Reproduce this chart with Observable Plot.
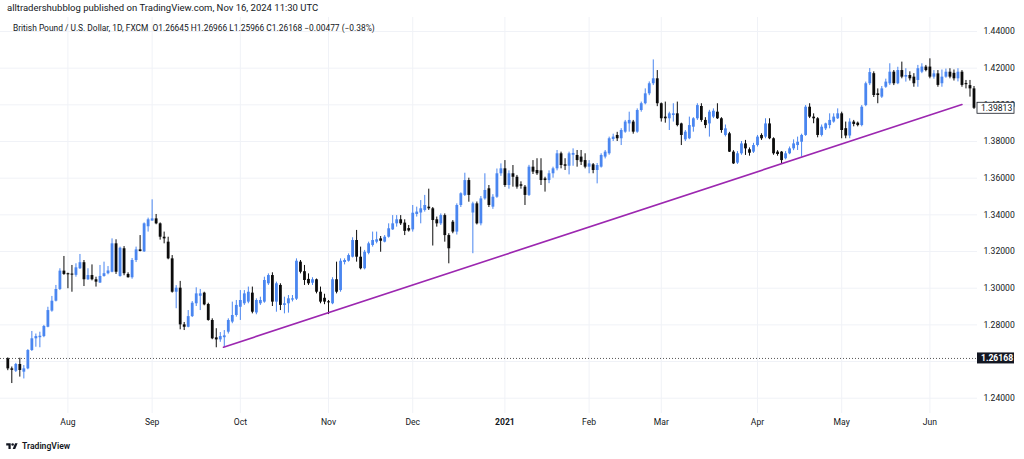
<!DOCTYPE html>
<html><head><meta charset="utf-8">
<script src="https://cdn.jsdelivr.net/npm/d3@7"></script>
<script src="https://cdn.jsdelivr.net/npm/@observablehq/plot@0.6"></script>
<style>
body{margin:0;background:#fff;}
#wrap{position:relative;width:1024px;height:459px;overflow:hidden;font-family:Roboto,"Liberation Sans",sans-serif;color:#131722;background:#fff;}
#chart{position:absolute;left:0;top:0;}
#hdr{position:absolute;left:7px;top:2px;font-size:9.5px;white-space:nowrap;}
#legend{position:absolute;left:13px;top:22.5px;font-size:8.4px;white-space:nowrap;}
#logo{position:absolute;left:5px;top:441px;font-size:8.6px;white-space:nowrap;display:flex;align-items:center;gap:3px;font-weight:600;}
</style></head>
<body><div id="wrap"><div id="chart"></div>
<div id="hdr">alltradershubblog published on TradingView.com, Nov 16, 2024 11:30 UTC</div>
<div id="legend">British Pound / U.S. Dollar, 1D, FXCM&nbsp;&nbsp;O1.26645 H1.26966 L1.25966 C1.26168 −0.00477 (−0.38%)</div>
<div id="logo"><svg width="14" height="9" viewBox="0 0 36 28"><path d="M14 22H7V11H0V4h14v18zM28 22h-8l7.5-18h8L28 22z" fill="#131722"/><circle cx="20" cy="8" r="4" fill="#131722"/></svg><span>TradingView</span></div>
</div>
<script>
const open = [1.2615,1.2560,1.2547,1.2584,1.2542,1.2560,1.2660,1.2724,1.2730,1.2736,1.2787,1.2875,1.2929,1.2993,1.3093,1.3078,1.3075,1.3070,1.3106,1.3139,
1.3046,1.3069,1.3046,1.3028,1.3064,1.3079,1.3087,1.3242,1.3064,1.3215,1.3075,1.3057,1.3151,1.3209,1.3198,1.3335,1.3366,1.3378,1.3351,1.3278,
1.3251,1.3160,1.2978,1.3000,1.2800,1.2787,1.2845,1.2915,1.2956,1.2973,1.2911,1.2824,1.2729,1.2718,1.2730,1.2760,1.2815,1.2851,1.2896,1.2915,
1.2924,1.2973,1.2865,1.2915,1.2924,1.3024,1.3069,1.2924,1.3015,1.2906,1.2915,1.2935,1.2940,1.3142,1.3090,1.3048,1.3027,1.3046,1.2978,1.2945,
1.2924,1.2915,1.3046,1.2987,1.3140,1.3147,1.3169,1.3260,1.3169,1.3106,1.3190,1.3233,1.3251,1.3269,1.3251,1.3278,1.3318,1.3351,1.3373,1.3355,
1.3325,1.3318,1.3402,1.3410,1.3424,1.3442,1.3433,1.3373,1.3351,1.3396,1.3287,1.3360,1.3306,1.3451,1.3506,1.3587,1.3410,1.3460,1.3351,1.3487,
1.3542,1.3442,1.3496,1.3624,1.3651,1.3560,1.3624,1.3605,1.3564,1.3551,1.3506,1.3660,1.3642,1.3640,1.3596,1.3587,1.3624,1.3651,1.3733,1.3673,
1.3665,1.3725,1.3724,1.3715,1.3696,1.3660,1.3673,1.3642,1.3660,1.3715,1.3733,1.3811,1.3833,1.3815,1.3851,1.3896,1.3906,1.3851,1.3969,1.4006,
1.4060,1.4115,1.4142,1.4006,1.3933,1.3924,1.3942,1.3951,1.3896,1.3809,1.3815,1.3878,1.3924,1.3991,1.3915,1.3896,1.3933,1.3960,1.3924,1.3833,
1.3842,1.3742,1.3682,1.3733,1.3787,1.3755,1.3742,1.3778,1.3833,1.3824,1.3896,1.3815,1.3742,1.3742,1.3706,1.3733,1.3760,1.3778,1.3796,1.3833,
1.3987,1.3933,1.3924,1.3833,1.3869,1.3887,1.3906,1.3924,1.3951,1.3870,1.3830,1.3906,1.3900,1.3887,1.3996,1.4115,1.4170,1.4060,1.4042,1.4096,
1.4115,1.4178,1.4115,1.4187,1.4151,1.4160,1.4151,1.4133,1.4178,1.4206,1.4206,1.4151,1.4169,1.4115,1.4151,1.4178,1.4172,1.4142,1.4178,1.4115,
1.4105,1.4087];
const high = [1.2620,1.2570,1.2590,1.2618,1.2578,1.2665,1.2764,1.2750,1.2760,1.2797,1.2896,1.2955,1.3015,1.3106,1.3173,1.3082,1.3124,1.3133,1.3184,1.3151,
1.3106,1.3127,1.3060,1.3124,1.3142,1.3118,1.3269,1.3264,1.3224,1.3227,1.3084,1.3162,1.3224,1.3287,1.3356,1.3382,1.3482,1.3402,1.3356,1.3306,
1.3278,1.3178,1.3014,1.3037,1.2813,1.2878,1.2927,1.3002,1.2993,1.2978,1.2918,1.2833,1.2779,1.2758,1.2769,1.2833,1.2924,1.2933,1.2987,1.2987,
1.3006,1.3006,1.2942,1.2951,1.3060,1.3078,1.3084,1.3033,1.3024,1.2951,1.2960,1.2960,1.3160,1.3151,1.3124,1.3078,1.3057,1.3050,1.3006,1.2967,
1.2933,1.3057,1.3142,1.3160,1.3160,1.3187,1.3275,1.3315,1.3224,1.3206,1.3251,1.3306,1.3306,1.3282,1.3287,1.3351,1.3396,1.3396,1.3396,1.3373,
1.3342,1.3451,1.3442,1.3478,1.3506,1.3540,1.3440,1.3388,1.3405,1.3405,1.3297,1.3369,1.3460,1.3520,1.3627,1.3600,1.3469,1.3470,1.3500,1.3624,
1.3560,1.3510,1.3650,1.3678,1.3696,1.3640,1.3669,1.3615,1.3580,1.3560,1.3670,1.3696,1.3706,1.3706,1.3605,1.3640,1.3660,1.3751,1.3742,1.3706,
1.3742,1.3760,1.3751,1.3751,1.3733,1.3696,1.3680,1.3680,1.3733,1.3751,1.3824,1.3840,1.3850,1.3870,1.3915,1.3960,1.3915,1.3978,1.4015,1.4087,
1.4125,1.4245,1.4187,1.4010,1.4015,1.3960,1.4006,1.4015,1.3900,1.3860,1.3933,1.3930,1.4006,1.4006,1.3930,1.3970,1.3978,1.4006,1.3930,1.3890,
1.3850,1.3750,1.3745,1.3800,1.3806,1.3765,1.3790,1.3833,1.3842,1.3924,1.3924,1.3820,1.3750,1.3745,1.3745,1.3770,1.3809,1.3824,1.3840,1.3996,
1.4006,1.3951,1.3930,1.3890,1.3900,1.3951,1.3951,1.3978,1.3960,1.3906,1.3924,1.3915,1.3906,1.3996,1.4124,1.4198,1.4180,1.4087,1.4100,1.4140,
1.4224,1.4187,1.4205,1.4233,1.4197,1.4180,1.4170,1.4215,1.4224,1.4215,1.4251,1.4187,1.4187,1.4190,1.4195,1.4197,1.4190,1.4197,1.4187,1.4133,
1.4133,1.4100];
const low = [1.2550,1.2480,1.2540,1.2515,1.2505,1.2555,1.2655,1.2678,1.2675,1.2730,1.2784,1.2869,1.2925,1.2987,1.3070,1.2997,1.2978,1.3060,1.3102,1.3009,
1.3042,1.3040,1.3006,1.3026,1.3060,1.3073,1.3084,1.3075,1.3060,1.3068,1.3055,1.3049,1.3140,1.3198,1.3195,1.3306,1.3366,1.3346,1.3262,1.3242,
1.3155,1.2973,1.2888,1.2773,1.2769,1.2784,1.2840,1.2900,1.2878,1.2904,1.2820,1.2719,1.2675,1.2705,1.2678,1.2750,1.2806,1.2842,1.2824,1.2906,
1.2915,1.2860,1.2855,1.2906,1.2918,1.3015,1.2900,1.2869,1.2878,1.2860,1.2864,1.2925,1.2933,1.3078,1.3015,1.3015,1.3015,1.2969,1.2915,1.2910,
1.2856,1.2910,1.2969,1.2978,1.3127,1.3142,1.3165,1.3142,1.3100,1.3100,1.3182,1.3224,1.3242,1.3196,1.3247,1.3273,1.3315,1.3333,1.3342,1.3287,
1.3306,1.3306,1.3388,1.3351,1.3415,1.3424,1.3230,1.3333,1.3342,1.3251,1.3133,1.3297,1.3290,1.3440,1.3500,1.3469,1.3188,1.3345,1.3340,1.3480,
1.3440,1.3430,1.3490,1.3610,1.3550,1.3540,1.3551,1.3540,1.3540,1.3451,1.3500,1.3620,1.3615,1.3560,1.3524,1.3570,1.3600,1.3640,1.3651,1.3642,
1.3618,1.3665,1.3660,1.3669,1.3651,1.3624,1.3624,1.3569,1.3655,1.3705,1.3725,1.3800,1.3800,1.3778,1.3845,1.3851,1.3840,1.3845,1.3960,1.4000,
1.4050,1.4105,1.3990,1.3906,1.3900,1.3860,1.3906,1.3880,1.3778,1.3800,1.3810,1.3851,1.3915,1.3905,1.3870,1.3824,1.3925,1.3920,1.3845,1.3825,
1.3740,1.3675,1.3675,1.3725,1.3724,1.3720,1.3735,1.3770,1.3806,1.3815,1.3810,1.3725,1.3720,1.3675,1.3700,1.3728,1.3750,1.3751,1.3715,1.3828,
1.3925,1.3897,1.3820,1.3825,1.3860,1.3869,1.3900,1.3920,1.3815,1.3815,1.3815,1.3880,1.3880,1.3880,1.3990,1.4105,1.4040,1.4006,1.4035,1.4090,
1.4106,1.4105,1.4110,1.4142,1.4124,1.4130,1.4096,1.4096,1.4170,1.4180,1.4142,1.4140,1.4096,1.4096,1.4145,1.4142,1.4130,1.4125,1.4096,1.4087,
1.4042,1.3975];
const close = [1.2560,1.2552,1.2584,1.2551,1.2560,1.2660,1.2724,1.2736,1.2738,1.2791,1.2878,1.2929,1.2993,1.3093,1.3075,1.3073,1.3071,1.3111,1.3139,1.3046,
1.3069,1.3046,1.3033,1.3064,1.3079,1.3094,1.3242,1.3087,1.3218,1.3079,1.3057,1.3151,1.3209,1.3200,1.3351,1.3373,1.3378,1.3351,1.3278,1.3269,
1.3160,1.2978,1.3000,1.2800,1.2787,1.2845,1.2918,1.2969,1.2969,1.2909,1.2824,1.2724,1.2718,1.2736,1.2740,1.2824,1.2851,1.2906,1.2933,1.2969,
1.2978,1.2869,1.2933,1.2933,1.3042,1.3069,1.2924,1.3024,1.2906,1.2915,1.2942,1.2942,1.3147,1.3087,1.3042,1.3024,1.3046,1.2978,1.2924,1.2924,
1.2920,1.3046,1.2978,1.3147,1.3151,1.3178,1.3260,1.3169,1.3106,1.3196,1.3242,1.3260,1.3264,1.3256,1.3278,1.3324,1.3351,1.3373,1.3351,1.3310,
1.3312,1.3409,1.3415,1.3433,1.3451,1.3433,1.3369,1.3351,1.3396,1.3287,1.3215,1.3306,1.3451,1.3515,1.3587,1.3506,1.3460,1.3351,1.3487,1.3533,
1.3451,1.3496,1.3624,1.3651,1.3560,1.3624,1.3605,1.3551,1.3556,1.3506,1.3660,1.3633,1.3624,1.3587,1.3587,1.3624,1.3651,1.3733,1.3669,1.3665,
1.3733,1.3735,1.3696,1.3687,1.3660,1.3678,1.3642,1.3669,1.3724,1.3742,1.3815,1.3824,1.3815,1.3860,1.3906,1.3915,1.3851,1.3969,1.4006,1.4060,
1.4115,1.4142,1.4006,1.3924,1.3924,1.3951,1.3951,1.3887,1.3833,1.3851,1.3887,1.3924,1.3996,1.3915,1.3887,1.3960,1.3965,1.3924,1.3860,1.3869,
1.3742,1.3678,1.3733,1.3787,1.3760,1.3736,1.3778,1.3824,1.3815,1.3896,1.3815,1.3733,1.3729,1.3696,1.3733,1.3760,1.3787,1.3796,1.3833,1.3987,
1.3933,1.3924,1.3833,1.3878,1.3896,1.3915,1.3933,1.3951,1.3860,1.3830,1.3906,1.3893,1.3887,1.3987,1.4115,1.4176,1.4051,1.4051,1.4087,1.4124,
1.4178,1.4115,1.4187,1.4151,1.4160,1.4142,1.4115,1.4197,1.4206,1.4187,1.4151,1.4169,1.4106,1.4151,1.4178,1.4151,1.4142,1.4178,1.4106,1.4110,
1.4087,1.39813];

const monthIdx = [15,36,58,80,101,124,145,163,187,208,230];
const monthLbl = ["Aug","Sep","Oct","Nov","Dec","2021","Feb","Mar","Apr","May","Jun"];
const priceTicks = [1.24,1.26,1.28,1.30,1.32,1.34,1.36,1.38,1.40,1.42,1.44];
const priceLabels = [1.24,1.28,1.30,1.32,1.34,1.36,1.38,1.40,1.42,1.44];
const trendIdx = [53.8, 238];
const trendPrice = [1.2678, 1.4002];
const lastPrice = 1.26168;
const lastBarClose = 1.39813;

const BLUE = "#4a86f0", DARK = "#0b0b0b", GRID = "#f0f2f7";
const FONT = "Roboto, 'Liberation Sans', sans-serif";
const candles = open.map((o,i)=>({i, o, h: high[i], l: low[i], c: close[i], up: close[i] >= o}));
const ups = candles.filter(d=>d.up), downs = candles.filter(d=>!d.up);
const bodyLo = d => Math.min(d.o, d.c);
const bodyHi = d => Math.max(Math.max(d.o, d.c), Math.min(d.o, d.c) + 0.0006);
const trend = trendIdx.map((x,k)=>({x, p: trendPrice[k]}));
const xt = monthIdx.map((x,k)=>({x, label: monthLbl[k]}));

const chart = Plot.plot({
  width: 1024, height: 459,
  marginLeft: 0, marginRight: 47, marginTop: 17, marginBottom: 46,
  style: {fontFamily: FONT, fontSize: "8.6px", color: "#131722", background: "transparent"},
  x: {type: "linear", domain: [0, 241], range: [7.3, 973.5], axis: null},
  y: {domain: [1.24, 1.44], range: [397.7, 31], axis: null},
  marks: [
    Plot.gridY(priceTicks, {stroke: GRID, strokeOpacity: 1}),
    Plot.gridX(monthIdx, {stroke: GRID, strokeOpacity: 1}),
    Plot.ruleY([lastPrice], {stroke: "#555", strokeDasharray: "1,2"}),
    Plot.ruleX(ups, {x: "i", y1: "l", y2: "h", stroke: BLUE, strokeWidth: 1}),
    Plot.ruleX(downs, {x: "i", y1: "l", y2: "h", stroke: DARK, strokeWidth: 1}),
    Plot.ruleX(ups, {x: "i", y1: bodyLo, y2: bodyHi, stroke: BLUE, strokeWidth: 2.8}),
    Plot.ruleX(downs, {x: "i", y1: bodyLo, y2: bodyHi, stroke: DARK, strokeWidth: 2.8}),
    Plot.line(trend, {x: "x", y: "p", stroke: "#9c27b0", strokeWidth: 1.6}),
    Plot.axisY(priceLabels, {anchor: "right", tickSize: 0, tickPadding: 6, tickFormat: d => d.toFixed(5), fill: "#131722"}),
    Plot.text(xt.filter(d=>d.label!=="2021"), {x: "x", text: "label", frameAnchor: "bottom", dy: 11, fill: "#131722"}),
    Plot.text(xt.filter(d=>d.label==="2021"), {x: "x", text: "label", frameAnchor: "bottom", dy: 11, fill: "#131722", fontWeight: "bold"})
  ]
});
document.getElementById("chart").appendChild(chart);

// price labels on the right scale
const ys = chart.scale("y");
const svg = d3.select(chart);
function priceBox(v, dark){
  const y = ys.apply(v);
  const g = svg.append("g");
  g.append("rect").attr("x", 977).attr("y", y-5.5).attr("width", 37).attr("height", 11)
    .attr("fill", dark ? "#131722" : "#fff").attr("stroke", "#131722").attr("stroke-width", dark?0:0.8);
  g.append("text").attr("x", 981).attr("y", y).attr("dy", "0.35em")
    .attr("text-anchor", "start")
    .attr("font-size", 8.6).attr("font-family", FONT)
    .attr("fill", dark ? "#fff" : "#131722").attr("font-weight", dark ? "bold" : "normal")
    .text(v.toFixed(5));
}
priceBox(lastBarClose, false);
priceBox(lastPrice, true);
</script>
</body></html>
